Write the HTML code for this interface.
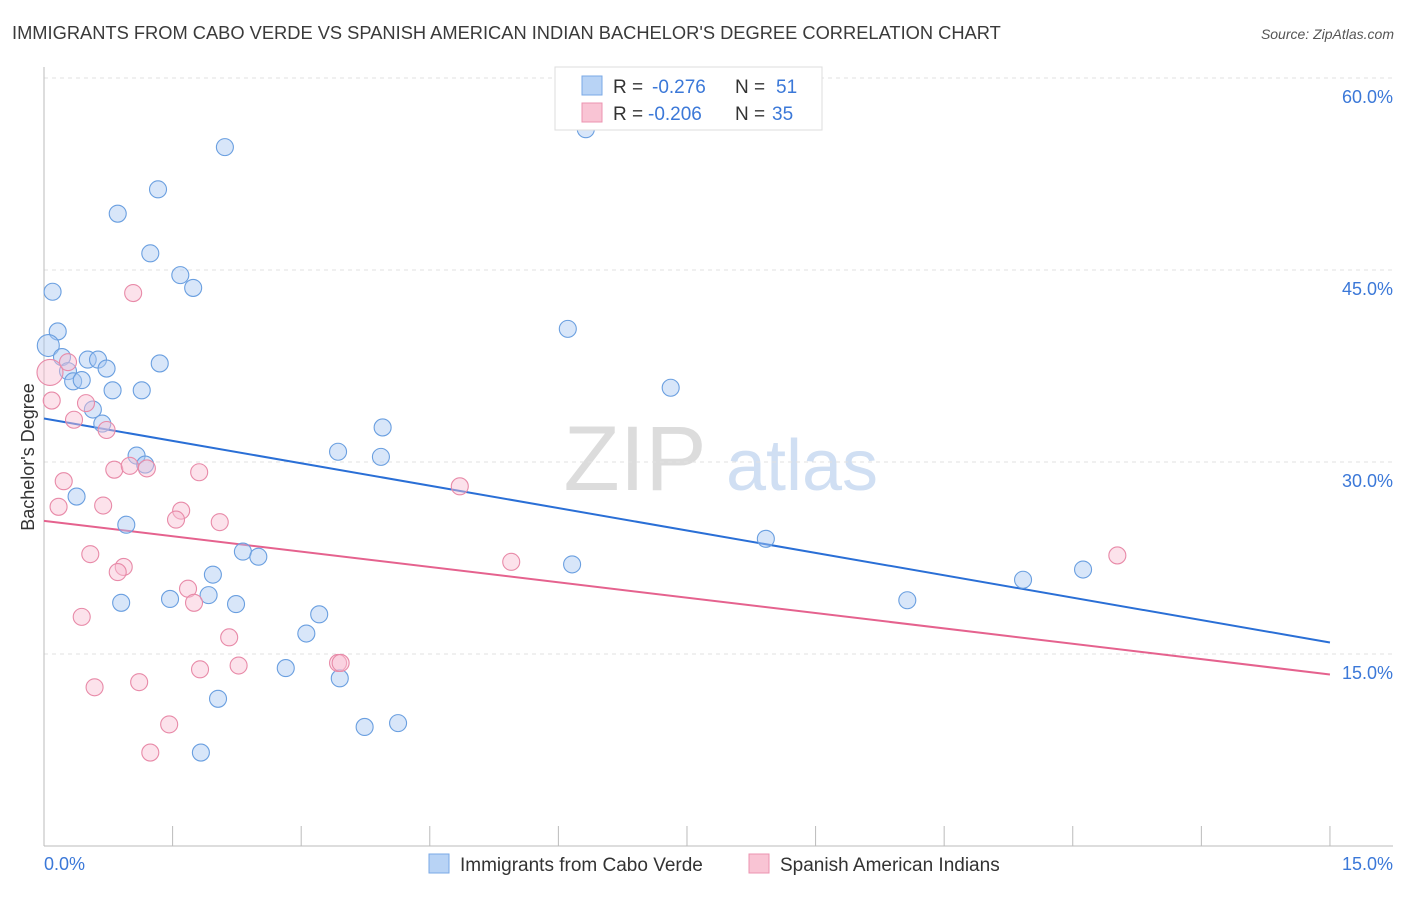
<!DOCTYPE html>
<html><head><meta charset="utf-8"><style>
body{margin:0;background:#fff;font-family:"Liberation Sans",sans-serif;}
svg text{font-family:"Liberation Sans",sans-serif;}
</style></head><body>
<svg id="chart" width="1406" height="892">
<text x="12" y="39" font-size="18.3" fill="#3a3a3a">IMMIGRANTS FROM CABO VERDE VS SPANISH AMERICAN INDIAN BACHELOR'S DEGREE CORRELATION CHART</text>
<text x="1394" y="39" font-size="14" fill="#555" font-style="italic" text-anchor="end">Source: ZipAtlas.com</text>
<g><text x="635" y="490" font-size="92" fill="#dcdcdc" font-family="Liberation Serif" text-anchor="middle">ZIP</text><text x="802" y="490" font-size="72" fill="#d0dff3" text-anchor="middle">atlas</text></g>
<g id="grid"></g>
<g id="axes"></g>
<g id="lines"></g>
<g id="pts"></g>
<text transform="translate(34,457) rotate(-90)" font-size="18" fill="#333" text-anchor="middle">Bachelor's Degree</text>
<g>
<rect x="555" y="67" width="267" height="63" fill="#fff" stroke="#ddd"/>
<rect x="582" y="76" width="20" height="19" fill="#b8d3f5" stroke="#7aa8e6"/>
<rect x="582" y="103" width="20" height="19" fill="#f9c4d4" stroke="#ec93b0"/>
<text x="613" y="93" font-size="19" fill="#333">R =</text>
<text x="652" y="93" font-size="19" fill="#3b78d8">-0.276</text>
<text x="735" y="93" font-size="19" fill="#333">N =</text>
<text x="776" y="93" font-size="19" fill="#3b78d8">51</text>
<text x="613" y="120" font-size="19" fill="#333">R =</text>
<text x="648" y="120" font-size="19" fill="#3b78d8">-0.206</text>
<text x="735" y="120" font-size="19" fill="#333">N =</text>
<text x="772" y="120" font-size="19" fill="#3b78d8">35</text>
</g>
<g>
<rect x="429" y="854" width="20" height="19" fill="#b8d3f5" stroke="#7aa8e6"/>
<text x="460" y="871" font-size="19" fill="#333">Immigrants from Cabo Verde</text>
<rect x="749" y="854" width="20" height="19" fill="#f9c4d4" stroke="#ec93b0"/>
<text x="780" y="871" font-size="19" fill="#333">Spanish American Indians</text>
</g>
</svg>
<script>
const blueX=[2.11,1.33,0.86,1.24,1.59,1.74,0.10,6.32,0.16,6.11,0.05,0.21,0.51,0.63,1.35,0.28,0.73,0.34,0.44,0.80,1.14,7.31,0.57,0.68,3.95,3.43,3.93,1.08,1.18,0.38,0.96,8.42,2.32,2.50,6.16,1.97,12.12,11.42,1.47,1.92,0.90,2.24,10.07,3.21,3.06,2.82,3.45,2.03,3.74,4.13,1.83];
const blueY=[54.6,51.3,49.4,46.3,44.6,43.6,43.3,56.0,40.2,40.4,39.1,38.2,38.0,38.0,37.7,37.1,37.3,36.3,36.4,35.6,35.6,35.8,34.1,33.0,32.7,30.8,30.4,30.5,29.8,27.3,25.1,24.0,23.0,22.6,22.0,21.2,21.6,20.8,19.3,19.6,19.0,18.9,19.2,18.1,16.6,13.9,13.1,11.5,9.3,9.6,7.3];
const pinkX=[1.04,0.07,0.28,0.09,0.49,0.35,0.73,0.23,0.17,0.69,0.82,1.00,1.20,1.81,1.60,1.54,2.05,4.85,0.54,0.93,0.86,5.45,12.52,1.68,1.75,0.44,2.16,1.82,2.27,3.43,3.46,1.11,0.59,1.46,1.24];
const pinkY=[43.2,37.0,37.8,34.8,34.6,33.3,32.5,28.5,26.5,26.6,29.4,29.7,29.5,29.2,26.2,25.5,25.3,28.1,22.8,21.8,21.4,22.2,22.7,20.1,19.0,17.9,16.3,13.8,14.1,14.3,14.3,12.8,12.4,9.5,7.3];
const blueTrend=[33.4,15.9];
const pinkTrend=[25.4,13.4];
const yTicks=[15,30,45,60];
const yTickLabels=["15.0%","30.0%","45.0%","60.0%"];
const xTicks=[0,1.5,3,4.5,6,7.5,9,10.5,12,13.5,15];
const xLabels=["0.0%","15.0%"];
const X=v=>44+v*85.73, Y=v=>846-v*12.8;
const NS="http://www.w3.org/2000/svg";
function mk(p,t,a){const e=document.createElementNS(NS,t);for(const k in a)e.setAttribute(k,a[k]);p.appendChild(e);return e;}
const grid=document.getElementById('grid'),axes=document.getElementById('axes'),lines=document.getElementById('lines'),pts=document.getElementById('pts');
yTicks.forEach((v,i)=>{
 const l=mk(grid,'line',{x1:44,x2:1393,y1:Y(v),y2:Y(v),stroke:'#e2e2e2','stroke-dasharray':'4,4'});
 
 
 const t=mk(axes,'text',{x:1393,y:Y(v)+25,'font-size':18,fill:'#3b78d8','text-anchor':'end'});t.textContent=yTickLabels[i];
 
 
});
mk(axes,'line',{x1:44,x2:44,y1:67,y2:846,stroke:'#bbb'});
mk(axes,'line',{x1:44,x2:1393,y1:846,y2:846,stroke:'#bbb'});
xTicks.forEach(v=>{const t=mk(axes,'line',{x1:X(v),x2:X(v),y1:826,y2:846,stroke:'#bbb'});
 
 });
const xl0=mk(axes,'text',{x:44,y:870,'font-size':18,fill:'#3b78d8'});xl0.textContent=xLabels[0];


const xl1=mk(axes,'text',{x:1393,y:870,'font-size':18,fill:'#3b78d8','text-anchor':'end'});xl1.textContent=xLabels[1];


function dots(xs,ys,fill,stroke,name){xs.forEach((x,i)=>{const big=(name==='pink-point'&&i===1)?13:(name==='blue-point'&&i===10)?11:8.5;
 const c=mk(pts,'circle',{cx:X(x),cy:Y(ys[i]),r:big,fill:fill,stroke:stroke,'stroke-width':1.1});
 
 });}
dots(blueX,blueY,'rgba(168,200,242,0.45)','#6a9fe0','blue-point');
dots(pinkX,pinkY,'rgba(248,190,210,0.45)','#e88aa8','pink-point');
const bl=mk(lines,'line',{x1:X(0),x2:X(15),y1:Y(blueTrend[0]),y2:Y(blueTrend[1]),stroke:'#2a6fd6','stroke-width':2});


const pl=mk(lines,'line',{x1:X(0),x2:X(15),y1:Y(pinkTrend[0]),y2:Y(pinkTrend[1]),stroke:'#e5628e','stroke-width':2});


</script>
</body></html>
